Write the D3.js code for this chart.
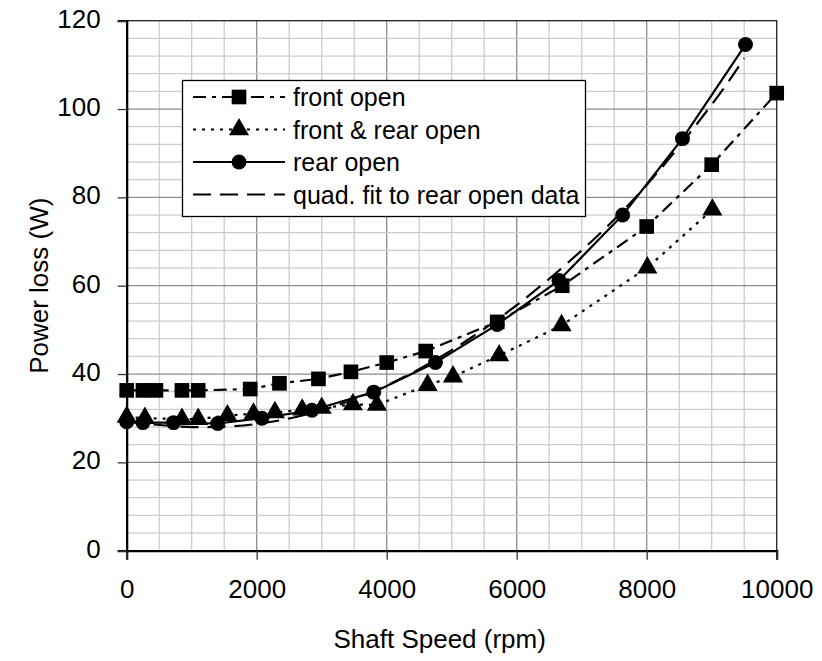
<!DOCTYPE html>
<html>
<head>
<meta charset="utf-8">
<script src="https://cdn.jsdelivr.net/npm/d3@7"></script>
<style>
  body { margin: 0; background: #fff; }
  text { font-family: "Liberation Sans", Arial, sans-serif; fill: #000; }
</style>
</head>
<body>
<div id="chart"></div>
<script>
// values
var frontOpenX = [0, 250, 450, 850, 1100, 1900, 2350, 2950, 3450, 4000, 4600, 5700, 6700, 8000, 9000, 10000];
var frontOpenY = [36.3, 36.3, 36.3, 36.3, 36.3, 36.6, 37.9, 38.9, 40.5, 42.6, 45.2, 51.8, 60.0, 73.4, 87.4, 103.6];

var bothOpenX = [0, 280, 850, 1100, 1550, 1950, 2280, 2700, 3000, 3480, 3850, 4630, 5020, 5730, 6690, 8010, 9010];
var bothOpenY = [30.3, 30.0, 29.8, 29.8, 30.6, 31.0, 31.3, 31.9, 32.3, 33.1, 33.0, 37.5, 39.4, 44.2, 51.0, 64.1, 77.2];

var rearOpenX = [0, 250, 720, 1400, 2080, 2850, 3800, 4750, 5700, 6650, 7630, 8550, 9520];
var rearOpenY = [29.2, 29.0, 29.0, 28.8, 30.0, 31.8, 35.9, 42.6, 51.2, 61.2, 76.0, 93.3, 114.6];

var fitX = [0, 1000, 2000, 3000, 4000, 5000, 6000, 7000, 8000, 9000, 9500];
var fitY = [29.2, 28.0, 28.7, 31.8, 37.4, 45.4, 55.6, 68.0, 82.8, 101.0, 111.5];

var xTicks = [0, 2000, 4000, 6000, 8000, 10000];
var yTicks = [0, 20, 40, 60, 80, 100, 120];

var seriesNames = ["front open", "front & rear open", "rear open", "quad. fit to rear open data"];

var width = 822, height = 661;
var pLeft = 126.7, pRight = 776.7, pTop = 20.7, pBottom = 550.7;

var svg = d3.select("#chart").append("svg")
  .attr("width", width)
  .attr("height", height);

svg.append("rect").attr("width", width).attr("height", height).attr("fill", "#fff");

var x = d3.scaleLinear().domain([0, 10000]).range([pLeft, pRight]);
var y = d3.scaleLinear().domain([0, 120]).range([pBottom, pTop]);

// grid, minor then major
var grid = svg.append("g");
grid.selectAll(".vminor").data(d3.range(500, 10000, 500)).enter().append("line")
  .attr("x1", d => x(d)).attr("x2", d => x(d))
  .attr("y1", pTop).attr("y2", pBottom)
  .attr("stroke", d => d % 2000 == 0 ? "#8c8c8c" : "#cccccc")
  .attr("stroke-width", 1.3);
grid.selectAll(".hminor").data(d3.range(4, 120, 4)).enter().append("line")
  .attr("x1", pLeft).attr("x2", pRight)
  .attr("y1", d => y(d)).attr("y2", d => y(d))
  .attr("stroke", d => d % 20 == 0 ? "#8c8c8c" : "#cccccc")
  .attr("stroke-width", 1.3);

// frame
svg.append("rect")
  .attr("x", pLeft).attr("y", pTop)
  .attr("width", pRight - pLeft).attr("height", pBottom - pTop)
  .attr("fill", "none").attr("stroke", "#222").attr("stroke-width", 1.3);

// axes
var xAxis = d3.axisBottom(x).tickValues(xTicks).tickFormat(d3.format("d")).tickSize(9).tickPadding(20);
var yAxis = d3.axisLeft(y).tickValues(yTicks).tickFormat(d3.format("d")).tickSize(9).tickPadding(17);

var gx = svg.append("g").attr("transform", "translate(0," + pBottom + ")").call(xAxis);
var gy = svg.append("g").attr("transform", "translate(" + pLeft + ",0)").call(yAxis);

[gx, gy].forEach(function(g) {
  g.select(".domain").attr("stroke", "#000").attr("stroke-width", 2.2);
  g.selectAll(".tick line").attr("stroke", "#333").attr("stroke-width", 1.3);
  g.selectAll(".tick text")
    .style("font-family", "Liberation Sans, Arial, sans-serif")
    .style("font-size", "26px")
    .attr("fill", "#000");
});
gy.selectAll(".tick text").attr("dy", "0.25em");

svg.append("text")
  .attr("x", x(5000) - 12).attr("y", 648)
  .attr("text-anchor", "middle")
  .style("font-size", "26px")
  .text("Shaft Speed (rpm)");

svg.append("text")
  .attr("transform", "translate(48," + ((pTop + pBottom) / 2) + ") rotate(-90)")
  .attr("text-anchor", "middle")
  .style("font-size", "26px")
  .text("Power loss (W)");

// series
function zip(xs, ys) {
  return xs.map((d, i) => [d, ys[i]]);
}

var series = [
  { name: seriesNames[0], data: zip(frontOpenX, frontOpenY), dash: "13,6,4,6", marker: "square" },
  { name: seriesNames[1], data: zip(bothOpenX, bothOpenY), dash: "3,6", marker: "triangle" },
  { name: seriesNames[2], data: zip(rearOpenX, rearOpenY), dash: null, marker: "circle" },
  { name: seriesNames[3], data: zip(fitX, fitY), dash: "18,9", marker: null, curve: true }
];

var line = d3.line().x(d => x(d[0])).y(d => y(d[1]));
var smooth = d3.line().x(d => x(d[0])).y(d => y(d[1])).curve(d3.curveNatural);

var symbols = {
  square: d3.symbol().type(d3.symbolSquare).size(215),
  triangle: d3.symbol().type(d3.symbolTriangle).size(175),
  circle: d3.symbol().type(d3.symbolCircle).size(175)
};

var plot = svg.append("g");

series.forEach(function(s) {
  plot.append("path")
    .datum(s.data)
    .attr("d", s.curve ? smooth : line)
    .attr("fill", "none")
    .attr("stroke", "#000")
    .attr("stroke-width", 2.2)
    .attr("stroke-dasharray", s.dash);
});

series.forEach(function(s) {
  if (!s.marker) return;
  plot.selectAll(".m-" + s.marker).data(s.data).enter().append("path")
    .attr("d", symbols[s.marker])
    .attr("transform", d => "translate(" + x(d[0]) + "," + y(d[1]) + ")")
    .attr("fill", "#000");
});

// legend
var lg = svg.append("g");
lg.append("rect")
  .attr("x", 182.5).attr("y", 80.5)
  .attr("width", 403).attr("height", 136)
  .attr("fill", "#fff").attr("stroke", "#000").attr("stroke-width", 1.3);

series.forEach(function(s, i) {
  var ly = 97 + i * 32.5;
  lg.append("line")
    .attr("x1", 193).attr("x2", 285)
    .attr("y1", ly).attr("y2", ly)
    .attr("stroke", "#000").attr("stroke-width", 2.2)
    .attr("stroke-dasharray", s.dash);
  if (s.marker) {
    lg.append("path")
      .attr("d", symbols[s.marker])
      .attr("transform", "translate(239," + ly + ")")
      .attr("fill", "#000");
  }
  lg.append("text")
    .attr("x", 293).attr("y", ly + 9)
    .style("font-size", "25px")
    .text(s.name);
});
</script>
</body>
</html>
